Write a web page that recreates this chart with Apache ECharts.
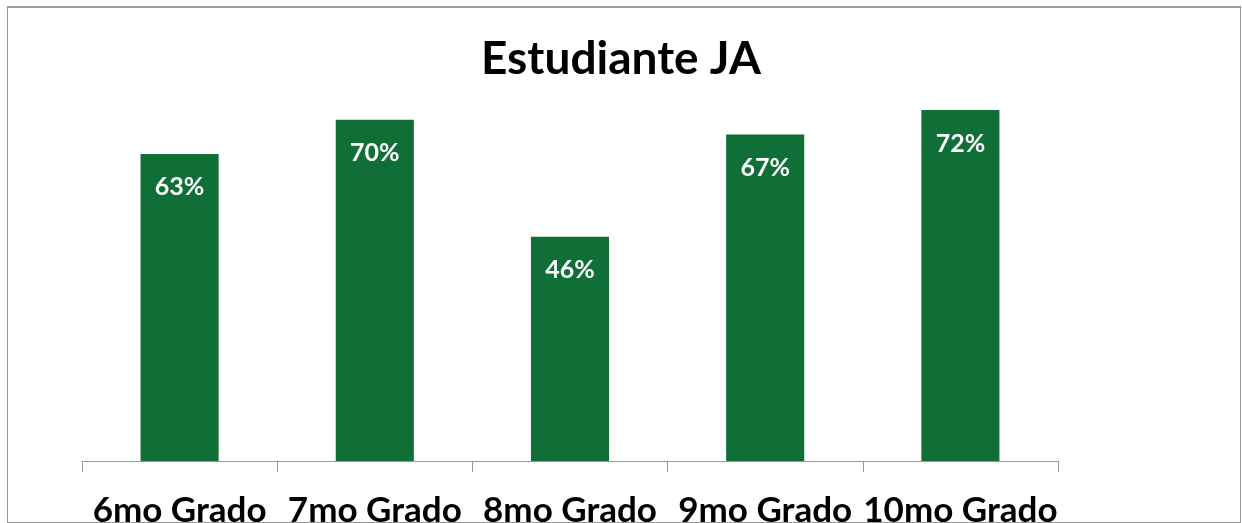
<!DOCTYPE html>
<html>
<head>
<meta charset="utf-8">
<script src="https://cdn.jsdelivr.net/npm/echarts@6/dist/echarts.min.js"></script>
<style>
  html, body { margin: 0; padding: 0; background: #fff; }
  #frame {
    position: absolute; left: 7px; top: 6px; width: 1232px; height: 514px;
    border: 1px solid #999; border-top-width: 2px; overflow: hidden;
  }
  #main { position: absolute; left: -8px; top: -8px; width: 1242px; height: 523px; }
</style>
</head>
<body>
<div id="frame"><div id="main"></div></div>
<script type="text/javascript">
  // datos
  var grados = ['6mo Grado', '7mo Grado', '8mo Grado', '9mo Grado', '10mo Grado'];
  var porcentajes = [63, 70, 46, 67, 72];

  var myChart = echarts.init(document.getElementById('main'));
  var option = {
    animation: false,
    title: {
      text: 'Estudiante JA',
      left: 'center',
      top: 31,
      textStyle: { fontFamily: 'Lato', fontWeight: 'bold', fontSize: 46, color: '#000' }
    },
    grid: { left: 82, right: 184, top: 71, bottom: 62, outerBoundsMode: 'none', containLabel: false },
    xAxis: {
      type: 'category',
      data: grados,
      axisLine: { lineStyle: { color: '#999', width: 1 } },
      axisTick: { show: true, length: 11, lineStyle: { color: '#999' } },
      axisLabel: {
        margin: 32,
        fontFamily: 'Lato', fontWeight: 'bold', fontSize: 35, color: '#000',
        interval: 0
      }
    },
    yAxis: {
      type: 'value', min: 0, max: 80, show: false,
      splitLine: { show: false }
    },
    series: [{
      type: 'bar',
      data: porcentajes,
      barWidth: '40%',
      itemStyle: { color: '#106E37' },
      label: {
        show: true,
        position: 'insideTop',
        distance: 21,
        formatter: '{c}%',
        fontFamily: 'Lato', fontWeight: 'bold', fontSize: 25, color: '#fff'
      }
    }]
  };
  myChart.setOption(option);
</script>
</body>
</html>
